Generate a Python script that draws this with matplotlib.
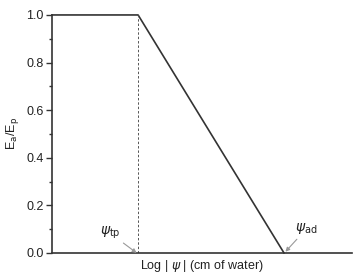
import matplotlib
matplotlib.use("Agg")
import matplotlib.pyplot as plt

plt.rcParams['font.family'] = ['Liberation Sans', 'DejaVu Sans']

# Feddes-type reduction curve (arbitrary log|psi| units)
x_curve = [0.0, 2.87, 7.73]
y_curve = [1.0, 1.0, 0.0]
psi_tp = 2.87
psi_ad = 7.73
y_ticks = [0.0, 0.2, 0.4, 0.6, 0.8, 1.0]

fig = plt.figure(figsize=(3.56, 2.77), dpi=100)
ax = fig.add_axes([0.146, 0.087, 0.843, 0.859])

col = '#333333'
ax.plot(x_curve, y_curve, color=col, lw=1.2, clip_on=False)
ax.plot([psi_tp, psi_tp], [0, 1], color='#555555', lw=0.7, ls=(0, (2.5, 2)))

ax.set_xlim(0, 10)
ax.set_ylim(0, 1.0)
ax.set_yticks(y_ticks)
ax.set_yticklabels([f"{v:.1f}" for v in y_ticks])
ax.set_yticks([0.1, 0.3, 0.5, 0.7, 0.9], minor=True)
ax.set_xticks([])
ax.tick_params(axis='y', which='major', direction='out', length=4, width=1,
               color=col, labelsize=9, labelcolor='#222222', pad=2)
ax.tick_params(axis='y', which='minor', direction='out', length=2, width=1, color=col)

for s in ['top', 'right']:
    ax.spines[s].set_visible(False)
for s in ['left', 'bottom']:
    ax.spines[s].set_color(col)
    ax.spines[s].set_linewidth(1.2)

ax.set_ylabel(r'E$_\mathrm{a}$/E$_\mathrm{p}$', fontsize=9, labelpad=4, color='#222222')
ax.set_xlabel(r'Log | $\psi$ | (cm of water)', fontsize=9, labelpad=4, color='#222222')

ax.annotate(r'$\psi_{\rm tp}$', xy=(psi_tp - 0.05, 0.0), xytext=(1.6, 0.075),
            fontsize=10, color='#222222',
            arrowprops=dict(arrowstyle='-|>', color='#999999', lw=0.8,
                            mutation_scale=6, shrinkA=0, shrinkB=0))
ax.annotate(r'$\psi_{\rm ad}$', xy=(psi_ad + 0.05, 0.005), xytext=(8.1, 0.09),
            fontsize=10, color='#222222',
            arrowprops=dict(arrowstyle='-|>', color='#999999', lw=0.8,
                            mutation_scale=6, shrinkA=0, shrinkB=0))

fig.savefig('out.png', dpi=100)
